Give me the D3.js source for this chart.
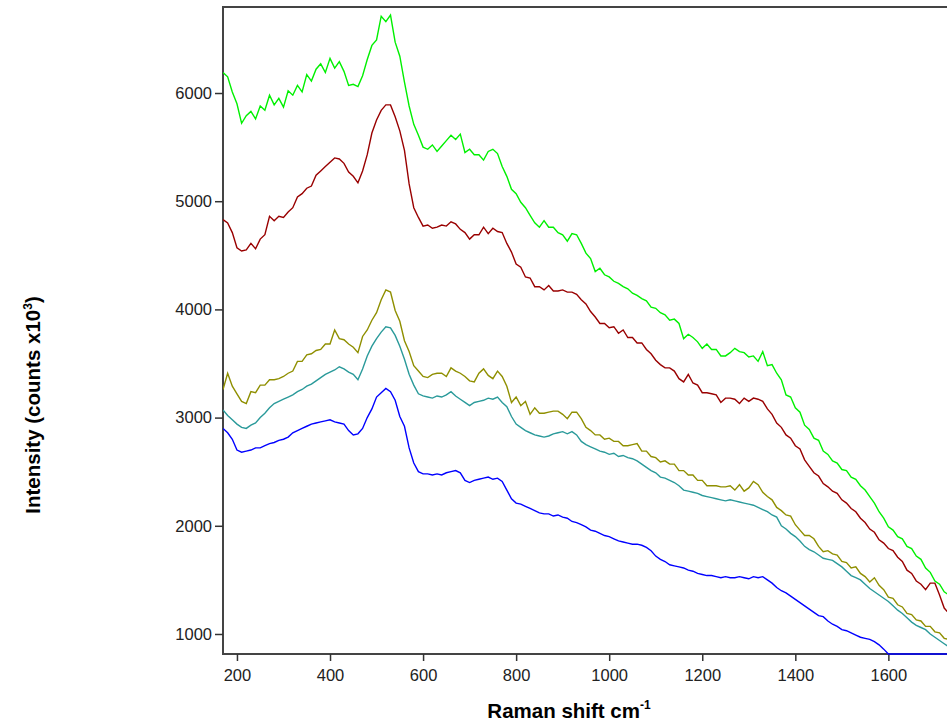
<!DOCTYPE html>
<html>
<head>
<meta charset="utf-8">
<script src="https://cdn.jsdelivr.net/npm/d3@7"></script>
<style>
  html, body { margin: 0; padding: 0; background: #fff; }
  svg { display: block; }
</style>
</head>
<body>
<svg id="chart" width="947" height="727"></svg>
<script>
// Raman shift axis: 170 .. 1730 cm-1, step 10
const ramanShift = d3.range(170, 1731, 10);

const xTicks = [200, 400, 600, 800, 1000, 1200, 1400, 1600];
const yTicks = [1000, 2000, 3000, 4000, 5000, 6000];

const seriesNames = ["green", "darkred", "olive", "teal", "blue"];
const seriesColors = ["#00f000", "#990000", "#8f8f00", "#2a9a9a", "#0000ff"];

const greenValues = [
  6190, 6150, 6010, 5900, 5720, 5790, 5830, 5760, 5880, 5840,
  5980, 5890, 5950, 5870, 6020, 5980, 6070, 6010, 6170, 6110,
  6220, 6270, 6190, 6320, 6230, 6290, 6200, 6070, 6080, 6060,
  6160, 6310, 6440, 6490, 6710, 6660, 6720, 6470, 6340, 6100,
  5880, 5710, 5610, 5500, 5480, 5520, 5460, 5510, 5560, 5610,
  5570, 5620, 5450, 5480, 5430, 5430, 5380, 5460, 5480, 5440,
  5320, 5230, 5110, 5070, 4990, 4940, 4870, 4800, 4760, 4820,
  4760, 4760, 4710, 4690, 4630, 4700, 4690, 4610, 4520, 4470,
  4350, 4380, 4320, 4300, 4260, 4240, 4210, 4190, 4150, 4130,
  4100, 4080, 4020, 4010, 3970, 3950, 3900, 3910, 3870, 3730,
  3770, 3740, 3700, 3640, 3680, 3630, 3630, 3570, 3570, 3600,
  3640, 3610, 3600, 3560, 3570, 3520, 3610, 3480, 3490, 3410,
  3350, 3210, 3190, 3090, 3050, 2930, 2890, 2810, 2790, 2690,
  2660, 2600, 2580, 2520, 2510, 2450, 2430, 2370, 2330, 2270,
  2210, 2130, 2070, 1990, 1960, 1900, 1880, 1810, 1790, 1720,
  1690, 1610, 1570, 1490, 1460, 1390, 1360
];

const darkredValues = [
  4830, 4800, 4710, 4570, 4540, 4550, 4610, 4560, 4650, 4690,
  4860, 4820, 4860, 4850, 4900, 4940, 5040, 5070, 5120, 5140,
  5240, 5280, 5320, 5360, 5400, 5390, 5350, 5270, 5230, 5170,
  5280, 5430, 5630, 5750, 5840, 5890, 5890, 5780, 5650, 5470,
  5160, 4940, 4850, 4770, 4780, 4750, 4760, 4780, 4770, 4810,
  4790, 4740, 4710, 4650, 4690, 4690, 4760, 4700, 4750, 4720,
  4710, 4610, 4530, 4420, 4390, 4300, 4290, 4210, 4210, 4180,
  4220, 4170, 4170, 4180, 4160, 4160, 4140, 4090, 4050, 3980,
  3930, 3870, 3870, 3830, 3840, 3780, 3810, 3740, 3740, 3690,
  3690, 3630, 3590, 3530, 3490, 3460, 3460, 3430, 3360, 3330,
  3400, 3320, 3300, 3230, 3230, 3220, 3210, 3140, 3180, 3180,
  3170, 3130, 3180, 3150, 3180, 3170, 3150, 3080, 3030, 2950,
  2910, 2840, 2810, 2740, 2710, 2610, 2550, 2490, 2460, 2390,
  2360, 2320, 2300, 2240, 2210, 2160, 2130, 2070, 2030, 1970,
  1940, 1870, 1840, 1790, 1770, 1710, 1670, 1590, 1560, 1490,
  1460, 1410, 1470, 1470, 1360, 1240, 1190
];

const oliveValues = [
  3260, 3410, 3290, 3220, 3150, 3130, 3240, 3230, 3300, 3300,
  3350, 3350, 3360, 3380, 3410, 3430, 3520, 3520, 3580, 3590,
  3620, 3630, 3680, 3680, 3810, 3730, 3720, 3680, 3650, 3600,
  3750, 3810, 3900, 3970, 4090, 4180, 4160, 3990, 3890, 3710,
  3610, 3480, 3430, 3380, 3370, 3400, 3410, 3410, 3380, 3460,
  3430, 3410, 3380, 3340, 3330, 3410, 3450, 3390, 3360, 3430,
  3380, 3290, 3140, 3190, 3110, 3150, 3030, 3090, 3040, 3040,
  3050, 3060, 3060, 3030, 2990, 3050, 3050, 2990, 2910, 2880,
  2840, 2840, 2800, 2810, 2780, 2780, 2740, 2740, 2750, 2760,
  2690, 2690, 2640, 2630, 2590, 2600, 2570, 2570, 2510, 2510,
  2470, 2470, 2420, 2420, 2370, 2370, 2370, 2360, 2360, 2370,
  2330, 2380, 2320, 2350, 2410, 2380, 2310, 2270, 2240, 2170,
  2140, 2100, 2090, 2010, 1960, 1910, 1910, 1880, 1810, 1760,
  1770, 1740, 1730, 1670, 1660, 1610, 1620, 1560, 1530, 1480,
  1520, 1450, 1410, 1340, 1330, 1270, 1250, 1190, 1180, 1130,
  1120, 1070, 1070, 1020, 1010, 960, 950
];

const tealValues = [
  3070, 3020, 2980, 2940, 2910, 2900, 2930, 2950, 3000, 3040,
  3090, 3130, 3150, 3170, 3190, 3210, 3240, 3260, 3290, 3310,
  3340, 3370, 3400, 3420, 3440, 3470, 3450, 3420, 3400, 3350,
  3450, 3570, 3660, 3730, 3790, 3840, 3830, 3760, 3660, 3540,
  3400, 3300, 3220, 3200, 3190, 3180, 3200, 3190, 3210, 3240,
  3200, 3170, 3140, 3110, 3140, 3150, 3160, 3180, 3170, 3190,
  3140, 3100, 3010, 2940, 2910, 2880, 2860, 2840, 2830, 2820,
  2830, 2850, 2860, 2870, 2850, 2870, 2840, 2780, 2750, 2730,
  2710, 2690, 2680, 2660, 2670, 2640, 2650, 2630, 2620, 2600,
  2570, 2540, 2510, 2490, 2450, 2440, 2420, 2400, 2370, 2330,
  2320, 2310, 2300, 2280, 2270, 2260, 2250, 2240, 2230, 2240,
  2230, 2220, 2210, 2200, 2190, 2170, 2150, 2130, 2100, 2080,
  2000, 1970, 1930, 1900, 1860, 1810, 1780, 1760, 1730, 1700,
  1690, 1680, 1650, 1620, 1580, 1540, 1520, 1500, 1460, 1420,
  1390, 1360, 1330, 1300, 1260, 1220, 1190, 1150, 1110, 1080,
  1060, 1040, 1000, 970, 940, 910, 880
];

const blueValues = [
  2900, 2860, 2800, 2700, 2680, 2690, 2700, 2720, 2720, 2740,
  2760, 2770, 2790, 2800, 2820, 2860, 2880, 2900, 2920, 2940,
  2950, 2960, 2970, 2980, 2960, 2950, 2940, 2880, 2840, 2850,
  2900, 3000, 3080, 3190, 3230, 3270, 3240, 3160, 3010, 2920,
  2720, 2580, 2500, 2480, 2480, 2470, 2480, 2470, 2490, 2500,
  2510, 2490, 2420, 2400, 2420, 2430, 2440, 2450, 2430, 2440,
  2410, 2330, 2250, 2210, 2200, 2180, 2160, 2140, 2120, 2110,
  2110, 2090, 2100, 2080, 2070, 2040, 2030, 2010, 1990, 1960,
  1950, 1930, 1910, 1900, 1880, 1860, 1850, 1840, 1830, 1830,
  1820, 1800, 1770, 1720, 1690, 1670, 1640, 1630, 1620, 1610,
  1590, 1580, 1560, 1550, 1540, 1540, 1530, 1520, 1530, 1520,
  1520, 1530, 1520, 1510, 1530, 1520, 1530, 1500, 1470, 1430,
  1400, 1380, 1350, 1320, 1290, 1260, 1230, 1200, 1170, 1160,
  1120, 1090, 1070, 1040, 1030, 1010, 990, 970, 960, 950,
  930, 900, 860, 780, 780, 780, 780, 780, 780, 780,
  780, 780, 780, 780, 780, 780, 780
];

const allSeries = [greenValues, darkredValues, oliveValues, tealValues, blueValues];

const svg = d3.select("#chart");
const plotLeft = 223, plotRight = 947, plotTop = 7, plotBottom = 654;

const x = d3.scaleLinear().domain([170, 1726]).range([plotLeft, plotRight]);
const y = d3.scaleLinear().domain([815, 6795]).range([plotBottom, plotTop]).clamp(true);

svg.append("defs").append("clipPath").attr("id", "plotclip")
  .append("rect").attr("x", plotLeft).attr("y", plotTop)
  .attr("width", plotRight - plotLeft + 10).attr("height", plotBottom - plotTop + 2);

// Frame line on top
const axisColor = "#444";
svg.append("line").attr("x1", plotLeft).attr("x2", plotRight).attr("y1", plotTop).attr("y2", plotTop)
  .attr("stroke", axisColor).attr("stroke-width", 2);

// Axes
const xAxis = svg.append("g").attr("transform", `translate(0,${plotBottom})`)
  .call(d3.axisBottom(x).tickValues(xTicks).tickSize(7).tickPadding(8).tickSizeOuter(0).tickFormat(d3.format("d")));
const yAxis = svg.append("g").attr("transform", `translate(${plotLeft},0)`)
  .call(d3.axisLeft(y).tickValues(yTicks).tickSize(8).tickPadding(3).tickSizeOuter(0).tickFormat(d3.format("d")));

[xAxis, yAxis].forEach(g => {
  g.select(".domain").attr("stroke", axisColor).attr("stroke-width", 2);
  g.selectAll(".tick line").attr("stroke", "#333").attr("stroke-width", 1.5);
  g.selectAll(".tick text")
    .attr("fill", "#222")
    .style("font-family", "'Liberation Sans', Arial, sans-serif")
    .style("font-size", "16.5px");
});
yAxis.select(".domain").attr("d", `M0,${plotTop - 1}V${plotBottom + 1}`);
xAxis.select(".domain").attr("d", `M${plotLeft - 1},0H${plotRight}`);

// Spectra drawn over the frame
const line = d3.line()
  .x((d, i) => x(ramanShift[i]))
  .y(d => y(d));

const lines = svg.append("g").attr("clip-path", "url(#plotclip)");
allSeries.forEach((vals, k) => {
  lines.append("path")
    .datum(vals)
    .attr("fill", "none")
    .attr("stroke", seriesColors[k])
    .attr("stroke-width", 1.4)
    .attr("stroke-linejoin", "miter")
    .attr("d", line);
});

// Axis titles
const xt = svg.append("text")
  .attr("x", 569).attr("y", 718)
  .attr("text-anchor", "middle")
  .style("font-family", "'Liberation Sans', Arial, sans-serif")
  .style("font-size", "20.5px").style("font-weight", "bold").attr("fill", "#000");
xt.append("tspan").text("Raman shift cm");
xt.append("tspan").attr("dy", -9).style("font-size", "12px").text("-1");

const yt = svg.append("text")
  .attr("transform", "translate(40,405) rotate(-90)")
  .attr("text-anchor", "middle")
  .style("font-family", "'Liberation Sans', Arial, sans-serif")
  .style("font-size", "20.5px").style("font-weight", "bold").attr("fill", "#000");
yt.append("tspan").text("Intensity (counts x10");
yt.append("tspan").attr("dy", -8).style("font-size", "12px").text("3");
yt.append("tspan").attr("dy", 8).text(")");
</script>
</body>
</html>
